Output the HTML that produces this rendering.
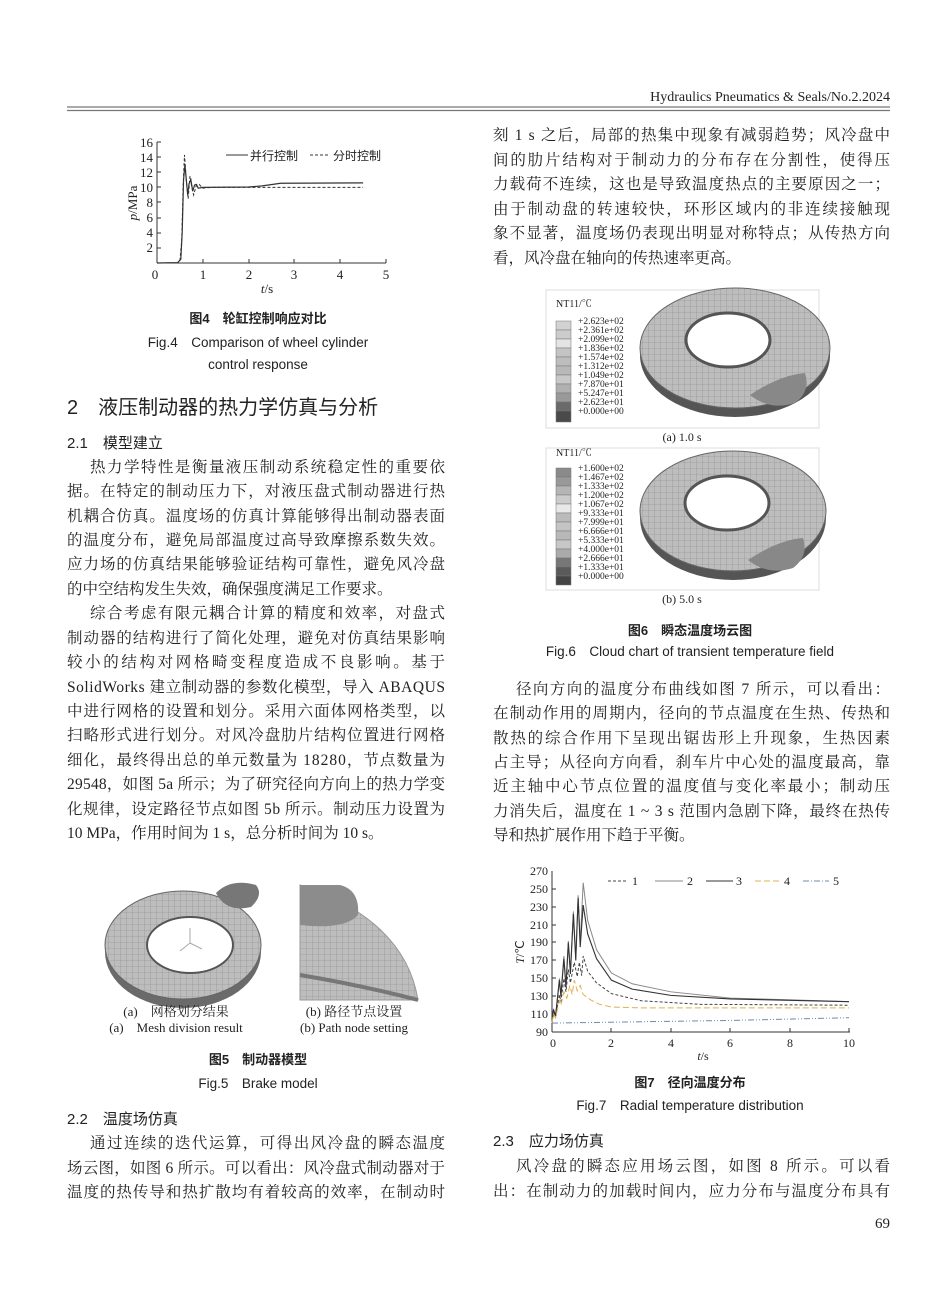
<!DOCTYPE html>
<html><head><meta charset="utf-8"><style>
html,body{margin:0;padding:0;background:#fff}
svg{display:block}
.t{font-family:"Liberation Serif","Noto Serif CJK SC",serif;font-size:15.5px;fill:#222}
.s{font-family:"Liberation Sans","Noto Sans CJK SC",sans-serif;fill:#222}
.ax{font-family:"Liberation Serif",serif;font-size:13px;fill:#222}
</style></head><body>
<svg width="950" height="1289" viewBox="0 0 950 1289" xmlns="http://www.w3.org/2000/svg">
<defs>
<pattern id="mesh" width="6" height="6" patternUnits="userSpaceOnUse"><rect width="6" height="6" fill="#bdbdbd"/><path d="M0 0H6M0 0V6" stroke="#8a8a8a" stroke-width="0.6"/></pattern>
</defs>
<text x="890" y="101" text-anchor="end" class="t" style="font-size:14px">Hydraulics Pneumatics &amp; Seals/No.2.2024</text>
<line x1="67" y1="107" x2="890" y2="107" stroke="#777" stroke-width="1.3"/>
<line x1="67" y1="110.5" x2="890" y2="110.5" stroke="#777" stroke-width="1.3"/>

<!-- Fig 4 -->
<g>
<line x1="157" y1="142" x2="157" y2="263" stroke="#333"/>
<line x1="157" y1="263" x2="386" y2="263" stroke="#333"/>
<g class="ax" text-anchor="end">
<text x="153" y="147">16</text><text x="153" y="162">14</text><text x="153" y="177">12</text><text x="153" y="192">10</text><text x="153" y="207">8</text><text x="153" y="222">6</text><text x="153" y="237">4</text><text x="153" y="252">2</text>
</g>
<g stroke="#333"><line x1="157" y1="142" x2="161" y2="142"/><line x1="157" y1="157" x2="161" y2="157"/><line x1="157" y1="172" x2="161" y2="172"/><line x1="157" y1="187" x2="161" y2="187"/><line x1="157" y1="202" x2="161" y2="202"/><line x1="157" y1="218" x2="161" y2="218"/><line x1="157" y1="233" x2="161" y2="233"/><line x1="157" y1="248" x2="161" y2="248"/>
<line x1="203" y1="263" x2="203" y2="259"/><line x1="249" y1="263" x2="249" y2="259"/><line x1="294" y1="263" x2="294" y2="259"/><line x1="340" y1="263" x2="340" y2="259"/><line x1="386" y1="263" x2="386" y2="259"/></g>
<g class="ax" text-anchor="middle"><text x="155" y="279">0</text><text x="203" y="279">1</text><text x="249" y="279">2</text><text x="294" y="279">3</text><text x="340" y="279">4</text><text x="386" y="279">5</text></g>
<text x="267" y="293" class="ax" text-anchor="middle" font-style="italic">t<tspan font-style="normal">/s</tspan></text>
<text transform="translate(137,203) rotate(-90)" class="ax" text-anchor="middle"><tspan font-style="italic">p</tspan>/MPa</text>
<g transform="translate(157,263) scale(45.8,-7.56)" fill="none">
<polyline vector-effect="non-scaling-stroke" stroke="#333" stroke-width="1.2" points="0,0 0.45,0.05 0.52,0.5 0.55,4 0.58,11 0.61,13 0.64,11 0.67,9 0.7,10.5 0.74,11 0.78,9.5 0.82,10.3 0.86,10.4 0.9,9.9 1,10 2,10.05 2.3,10.2 2.7,10.55 4.5,10.6"/>
<polyline vector-effect="non-scaling-stroke" stroke="#333" stroke-width="1" stroke-dasharray="3,2" points="0.5,0.3 0.54,3 0.57,10 0.6,14.3 0.64,11 0.68,8.5 0.72,11.5 0.76,10 0.8,9 0.86,10.3 0.92,10.4 1,9.9 1.2,10 4.5,10"/>
</g>
<line x1="226" y1="155" x2="248" y2="155" stroke="#333"/>
<text x="250" y="160" class="s" style="font-size:12px">并行控制</text>
<line x1="310" y1="155" x2="330" y2="155" stroke="#333" stroke-dasharray="3,2"/>
<text x="333" y="160" class="s" style="font-size:12px">分时控制</text>
</g>

<text x="258" y="323" class="s" style="font-size:13px;font-weight:bold" text-anchor="middle">图4　轮缸控制响应对比</text>
<text x="258" y="347" class="s" style="font-size:13.5px" text-anchor="middle">Fig.4　Comparison of wheel cylinder</text>
<text x="258" y="369" class="s" style="font-size:13.5px" text-anchor="middle">control response</text>

<text x="67" y="414" class="t" style="font-size:20px;font-family:'Liberation Sans','Noto Sans CJK SC',sans-serif">2　液压制动器的热力学仿真与分析</text>
<text x="67" y="448" class="s" style="font-size:15px">2.1　模型建立</text>

<g class="t">
<text x="90" y="472" textLength="355">热力学特性是衡量液压制动系统稳定性的重要依</text>
<text x="67" y="496" textLength="378">据。在特定的制动压力下，对液压盘式制动器进行热</text>
<text x="67" y="521" textLength="378">机耦合仿真。温度场的仿真计算能够得出制动器表面</text>
<text x="67" y="545" textLength="378">的温度分布，避免局部温度过高导致摩擦系数失效。</text>
<text x="67" y="569" textLength="378">应力场的仿真结果能够验证结构可靠性，避免风冷盘</text>
<text x="67" y="594">的中空结构发生失效，确保强度满足工作要求。</text>
<text x="90" y="618" textLength="355">综合考虑有限元耦合计算的精度和效率，对盘式</text>
<text x="67" y="643" textLength="378">制动器的结构进行了简化处理，避免对仿真结果影响</text>
<text x="67" y="667" textLength="378">较小的结构对网格畸变程度造成不良影响。基于</text>
<text x="67" y="692" textLength="378">SolidWorks 建立制动器的参数化模型，导入 ABAQUS</text>
<text x="67" y="716" textLength="378">中进行网格的设置和划分。采用六面体网格类型，以</text>
<text x="67" y="740" textLength="378">扫略形式进行划分。对风冷盘肋片结构位置进行网格</text>
<text x="67" y="765" textLength="378">细化，最终得出总的单元数量为 18280，节点数量为</text>
<text x="67" y="789" textLength="378">29548，如图 5a 所示；为了研究径向方向上的热力学变</text>
<text x="67" y="814" textLength="378">化规律，设定路径节点如图 5b 所示。制动压力设置为</text>
<text x="67" y="838">10 MPa，作用时间为 1 s，总分析时间为 10 s。</text>
</g>

<!-- Fig 5 -->
<g>
<ellipse cx="183" cy="952" rx="78" ry="56" fill="#6a6a6a"/>
<ellipse cx="183" cy="945" rx="78" ry="54" fill="url(#mesh)" stroke="#666"/>
<ellipse cx="190" cy="945" rx="43" ry="28" fill="#fff" stroke="#555" stroke-width="2"/>
<path d="M216 893 q15-15 40-8 q8 10 -5 22 q-25 6 -35 -14z" fill="#777"/>
<path d="M190 928 l0 15 l-10 8 M190 943 l12 6" stroke="#aaa" fill="none"/>
<path d="M300 885 L300 1000 L418 1000 Q405 920 300 885z" fill="url(#mesh)" stroke="#999"/>
<path d="M300 885 L340 885 Q360 890 358 915 Q345 930 300 925z" fill="#8c8c8c"/>
<path d="M300 975 Q360 985 418 1000" stroke="#777" fill="none" stroke-width="4"/>
</g>
<g class="t" style="font-size:13px" text-anchor="middle">
<text x="176" y="1016">(a)　网格划分结果</text>
<text x="176" y="1032">(a)　Mesh division result</text>
<text x="354" y="1016">(b) 路径节点设置</text>
<text x="354" y="1032">(b) Path node setting</text>
</g>
<text x="258" y="1064" class="s" style="font-size:13px;font-weight:bold" text-anchor="middle">图5　制动器模型</text>
<text x="258" y="1088" class="s" style="font-size:13.5px" text-anchor="middle">Fig.5　Brake model</text>
<text x="67" y="1124" class="s" style="font-size:15px">2.2　温度场仿真</text>
<g class="t">
<text x="90" y="1148" textLength="355">通过连续的迭代运算，可得出风冷盘的瞬态温度</text>
<text x="67" y="1173" textLength="378">场云图，如图 6 所示。可以看出：风冷盘式制动器对于</text>
<text x="67" y="1197" textLength="378">温度的热传导和热扩散均有着较高的效率，在制动时</text>
</g>

<!-- right column -->
<g class="t">
<text x="493" y="140" textLength="397">刻 1 s 之后，局部的热集中现象有减弱趋势；风冷盘中</text>
<text x="493" y="165" textLength="397">间的肋片结构对于制动力的分布存在分割性，使得压</text>
<text x="493" y="189" textLength="397">力载荷不连续，这也是导致温度热点的主要原因之一；</text>
<text x="493" y="214" textLength="397">由于制动盘的转速较快，环形区域内的非连续接触现</text>
<text x="493" y="238" textLength="397">象不显著，温度场仍表现出明显对称特点；从传热方向</text>
<text x="493" y="263">看，风冷盘在轴向的传热速率更高。</text>
</g>

<!-- Fig 6 -->
<g>
<rect x="546" y="290" width="273" height="138" fill="none" stroke="#ddd"/>
<text x="556" y="307" class="t" style="font-size:10px">NT11/℃</text>
<g stroke="#777" stroke-width="0.5">
<rect x="556" y="321" width="15" height="9" fill="#d2d2d2"/><rect x="556" y="330" width="15" height="9" fill="#ccc"/><rect x="556" y="339" width="15" height="9" fill="#e4e4e4"/><rect x="556" y="348" width="15" height="9" fill="#c4c4c4"/><rect x="556" y="357" width="15" height="9" fill="#bdbdbd"/><rect x="556" y="366" width="15" height="9" fill="#b8b8b8"/><rect x="556" y="375" width="15" height="9" fill="#c8c8c8"/><rect x="556" y="384" width="15" height="9" fill="#b0b0b0"/><rect x="556" y="393" width="15" height="9" fill="#999"/><rect x="556" y="402" width="15" height="9" fill="#6a6a6a"/><rect x="556" y="411" width="15" height="11" fill="#4a4a4a"/>
</g>
<g class="t" style="font-size:9.5px">
<text x="578" y="324">+2.623e+02</text><text x="578" y="333">+2.361e+02</text><text x="578" y="342">+2.099e+02</text><text x="578" y="351">+1.836e+02</text><text x="578" y="360">+1.574e+02</text><text x="578" y="369">+1.312e+02</text><text x="578" y="378">+1.049e+02</text><text x="578" y="387">+7.870e+01</text><text x="578" y="396">+5.247e+01</text><text x="578" y="405">+2.623e+01</text><text x="578" y="414">+0.000e+00</text>
</g>
<ellipse cx="735" cy="355" rx="95" ry="62" fill="#555"/>
<ellipse cx="735" cy="348" rx="95" ry="60" fill="url(#mesh)" stroke="#666"/>
<ellipse cx="728" cy="340" rx="42" ry="27" fill="#fff" stroke="#555" stroke-width="3"/>
<path d="M750 395 q30-20 55-22 q6 18 -10 30 q-25 8 -45 -8z" fill="#888"/>
<text x="682" y="441" class="t" style="font-size:12px" text-anchor="middle">(a)  1.0 s</text>

<rect x="546" y="448" width="273" height="142" fill="none" stroke="#ddd"/>
<text x="556" y="456" class="t" style="font-size:10px">NT11/℃</text>
<g stroke="#777" stroke-width="0.5">
<rect x="556" y="468" width="15" height="9" fill="#8a8a8a"/><rect x="556" y="477" width="15" height="9" fill="#999"/><rect x="556" y="486" width="15" height="9" fill="#b5b5b5"/><rect x="556" y="495" width="15" height="9" fill="#ccc"/><rect x="556" y="504" width="15" height="9" fill="#e8e8e8"/><rect x="556" y="513" width="15" height="9" fill="#bbb"/><rect x="556" y="522" width="15" height="9" fill="#c4c4c4"/><rect x="556" y="531" width="15" height="9" fill="#b8b8b8"/><rect x="556" y="540" width="15" height="9" fill="#c7c7c7"/><rect x="556" y="549" width="15" height="9" fill="#aaa"/><rect x="556" y="558" width="15" height="9" fill="#777"/><rect x="556" y="567" width="15" height="9" fill="#5a5a5a"/><rect x="556" y="576" width="15" height="9" fill="#444"/>
</g>
<g class="t" style="font-size:9.5px">
<text x="578" y="471">+1.600e+02</text><text x="578" y="480">+1.467e+02</text><text x="578" y="489">+1.333e+02</text><text x="578" y="498">+1.200e+02</text><text x="578" y="507">+1.067e+02</text><text x="578" y="516">+9.333e+01</text><text x="578" y="525">+7.999e+01</text><text x="578" y="534">+6.666e+01</text><text x="578" y="543">+5.333e+01</text><text x="578" y="552">+4.000e+01</text><text x="578" y="561">+2.666e+01</text><text x="578" y="570">+1.333e+01</text><text x="578" y="579">+0.000e+00</text>
</g>
<ellipse cx="733" cy="518" rx="93" ry="62" fill="#555"/>
<ellipse cx="733" cy="511" rx="93" ry="60" fill="url(#mesh)" stroke="#666"/>
<ellipse cx="727" cy="503" rx="42" ry="27" fill="#fff" stroke="#555" stroke-width="3"/>
<path d="M748 560 q30-20 55-22 q6 18 -10 30 q-25 8 -45 -8z" fill="#888"/>
<text x="682" y="603" class="t" style="font-size:12px" text-anchor="middle">(b)  5.0 s</text>
</g>
<text x="690" y="635" class="s" style="font-size:13px;font-weight:bold" text-anchor="middle">图6　瞬态温度场云图</text>
<text x="690" y="656" class="s" style="font-size:13.5px" text-anchor="middle">Fig.6　Cloud chart of transient temperature field</text>

<g class="t">
<text x="516" y="694" textLength="374">径向方向的温度分布曲线如图 7 所示，可以看出：</text>
<text x="493" y="718" textLength="397">在制动作用的周期内，径向的节点温度在生热、传热和</text>
<text x="493" y="743" textLength="397">散热的综合作用下呈现出锯齿形上升现象，生热因素</text>
<text x="493" y="767" textLength="397">占主导；从径向方向看，刹车片中心处的温度最高，靠</text>
<text x="493" y="791" textLength="397">近主轴中心节点位置的温度值与变化率最小；制动压</text>
<text x="493" y="816" textLength="397">力消失后，温度在 1 ~ 3 s 范围内急剧下降，最终在热传</text>
<text x="493" y="840">导和热扩展作用下趋于平衡。</text>
</g>

<!-- Fig 7 -->
<g>
<line x1="552" y1="871" x2="552" y2="1032" stroke="#333"/>
<line x1="552" y1="1032" x2="850" y2="1032" stroke="#333"/>
<g class="ax" text-anchor="end" style="font-size:12px">
<text x="548" y="875">270</text><text x="548" y="893">250</text><text x="548" y="911">230</text><text x="548" y="929">210</text><text x="548" y="946">190</text><text x="548" y="964">170</text><text x="548" y="982">150</text><text x="548" y="1000">130</text><text x="548" y="1018">110</text><text x="548" y="1036">90</text>
</g>
<g stroke="#333"><line x1="552" y1="889" x2="556" y2="889"/><line x1="552" y1="907" x2="556" y2="907"/><line x1="552" y1="925" x2="556" y2="925"/><line x1="552" y1="942" x2="556" y2="942"/><line x1="552" y1="960" x2="556" y2="960"/><line x1="552" y1="978" x2="556" y2="978"/><line x1="552" y1="996" x2="556" y2="996"/><line x1="552" y1="1014" x2="556" y2="1014"/>
<line x1="611" y1="1032" x2="611" y2="1028"/><line x1="671" y1="1032" x2="671" y2="1028"/><line x1="730" y1="1032" x2="730" y2="1028"/><line x1="790" y1="1032" x2="790" y2="1028"/><line x1="849" y1="1032" x2="849" y2="1028"/></g>
<g class="ax" text-anchor="middle" style="font-size:12px"><text x="553" y="1047">0</text><text x="611" y="1047">2</text><text x="671" y="1047">4</text><text x="730" y="1047">6</text><text x="790" y="1047">8</text><text x="849" y="1047">10</text></g>
<text x="703" y="1060" class="ax" text-anchor="middle" font-style="italic" style="font-size:12px">t<tspan font-style="normal">/s</tspan></text>
<text transform="translate(524,952) rotate(-90)" class="ax" text-anchor="middle" style="font-size:12px"><tspan font-style="italic">T</tspan>/℃</text>
<g transform="translate(552,1112.5) scale(29.7,-0.894)" fill="none">
<polyline vector-effect="non-scaling-stroke" stroke="#888" stroke-width="1" points="0,100 0.05,116 0.12,108 0.25,150 0.3,132 0.4,175 0.47,142 0.55,192 0.62,158 0.72,225 0.8,172 0.88,243 0.95,190 1.05,257 1.2,215 1.5,182 2,156 2.7,144 4,135 6,128 10,124"/>
<polyline vector-effect="non-scaling-stroke" stroke="#333" stroke-width="1.1" points="0,100 0.05,115 0.12,108 0.25,148 0.3,130 0.4,172 0.47,140 0.55,190 0.62,155 0.72,222 0.8,170 0.88,240 0.95,185 1.05,232 1.2,200 1.5,172 2,148 2.7,138 4,131 6,127 10,124"/>
<polyline vector-effect="non-scaling-stroke" stroke="#444" stroke-width="1" stroke-dasharray="3,2" points="0,100 0.05,112 0.12,107 0.25,132 0.3,124 0.4,150 0.47,135 0.55,160 0.62,145 0.75,168 0.85,152 0.92,168 1,153 1.05,175 1.2,158 1.5,145 2,133 3,125 5,121 10,120"/>
<polyline vector-effect="non-scaling-stroke" stroke="#e0b050" stroke-width="1" stroke-dasharray="6,3" points="0,100 0.05,110 0.12,106 0.25,125 0.3,120 0.4,135 0.5,128 0.6,142 0.68,132 0.75,148 0.85,136 0.95,142 1.05,132 1.3,126 1.6,121 2,118 3,117 10,117"/>
<polyline vector-effect="non-scaling-stroke" stroke="#7088b0" stroke-width="1" stroke-dasharray="6,2,1,2,1,2" points="0,100 1,100.5 2,101 4,102 6,103 8,104.5 10,106"/>
</g>
<line x1="608" y1="881" x2="628" y2="881" stroke="#444" stroke-dasharray="3,2"/><text x="632" y="885" class="ax" style="font-size:12px">1</text>
<line x1="655" y1="881" x2="683" y2="881" stroke="#888"/><text x="687" y="885" class="ax" style="font-size:12px">2</text>
<line x1="706" y1="881" x2="733" y2="881" stroke="#333"/><text x="736" y="885" class="ax" style="font-size:12px">3</text>
<line x1="755" y1="881" x2="780" y2="881" stroke="#e0b050" stroke-dasharray="6,3"/><text x="784" y="885" class="ax" style="font-size:12px">4</text>
<line x1="803" y1="881" x2="829" y2="881" stroke="#7088b0" stroke-dasharray="6,2,1,2"/><text x="833" y="885" class="ax" style="font-size:12px">5</text>
</g>
<text x="690" y="1087" class="s" style="font-size:13px;font-weight:bold" text-anchor="middle">图7　径向温度分布</text>
<text x="690" y="1110" class="s" style="font-size:13.5px" text-anchor="middle">Fig.7　Radial temperature distribution</text>
<text x="493" y="1146" class="s" style="font-size:15px">2.3　应力场仿真</text>
<g class="t">
<text x="516" y="1171" textLength="374">风冷盘的瞬态应用场云图，如图 8 所示。可以看</text>
<text x="493" y="1196" textLength="397">出：在制动力的加载时间内，应力分布与温度分布具有</text>
</g>
<text x="890" y="1228" class="t" style="font-size:15px" text-anchor="end">69</text>
</svg>
</body></html>
